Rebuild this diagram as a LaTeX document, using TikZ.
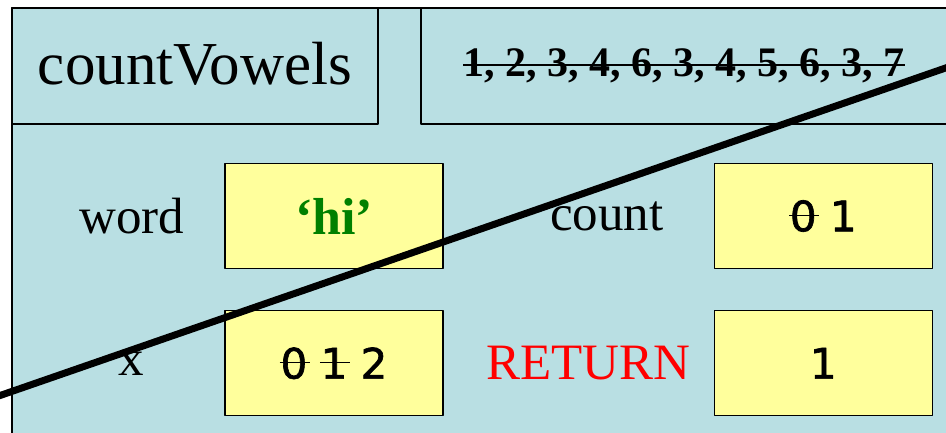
\documentclass[tikz,border=0pt]{standalone}
\usepackage{fontspec}
\setmainfont{Liberation Serif}
\newfontfamily\valfont[FakeBold=1.5]{DejaVu Sans}
\usetikzlibrary{positioning}
\definecolor{framebg}{HTML}{B9DFE3}
\definecolor{valfill}{HTML}{FFFF9C}
\definecolor{strgreen}{HTML}{008000}
\newcommand{\gone}[1]{\setbox0\hbox{#1}\rlap{\hspace{-0.02em}\rule[0.36em]{\dimexpr\wd0+0.08em\relax}{1.2pt}}\box0\relax}
\tikzset{
  frame/.style={draw=black,fill=framebg,line width=1.3pt},
  valbox/.style={draw=black,fill=valfill,line width=1.3pt,minimum width=218pt,minimum height=105pt,inner sep=0pt,font=\valfont\fontsize{42}{48}\selectfont},
  varname/.style={inner sep=0pt,font=\fontsize{51}{58}\selectfont}
}
\begin{document}
\begin{tikzpicture}[x=1pt,y=-1pt,line join=round,line cap=round]
\useasboundingbox (0,0) rectangle (946,433);
\clip (0,0) rectangle (946,433);
% frame
\draw[frame] (12,8) rectangle (960,450);
\draw[frame] (12,8) rectangle (378,124);
\draw[frame] (421,8) rectangle (960,124);
\node[inner sep=0pt,font=\fontsize{61}{68}\selectfont] (fname) at (195,64) {countVowels};
\node[inner sep=0pt,font=\bfseries\fontsize{42}{48}\selectfont] (pc) at (684,66) {1, 2, 3, 4, 6, 3, 4, 5, 6, 3, 7};
\coordinate (pcline) at (0,65);
\draw[line width=2pt,line cap=butt] (pc.west |- pcline) -- (pc.east |- pcline);
% variables
\node[valbox] (wordval) at (334,216) {\rmfamily\bfseries\fontsize{52}{58}\selectfont\color{strgreen}‘hi’};
\node[valbox,below=41pt of wordval] (xval) {\gone{0} \gone{1} 2};
\node[valbox,right=270pt of wordval] (countval) {\gone{0} 1};
\node[valbox,below=41pt of countval] (retval) {1};
\node[varname,left=40pt of wordval] (word) {word};
\node[varname,left=80pt of xval] (xname) {x};
\node[varname,left=50pt of countval] (count) {count};
\node[varname,left=23pt of retval,text=red] (ret) {RETURN};
% crossed out
\draw[line width=7pt,line cap=butt] (-10,399) -- (960,63);
\end{tikzpicture}
\end{document}
